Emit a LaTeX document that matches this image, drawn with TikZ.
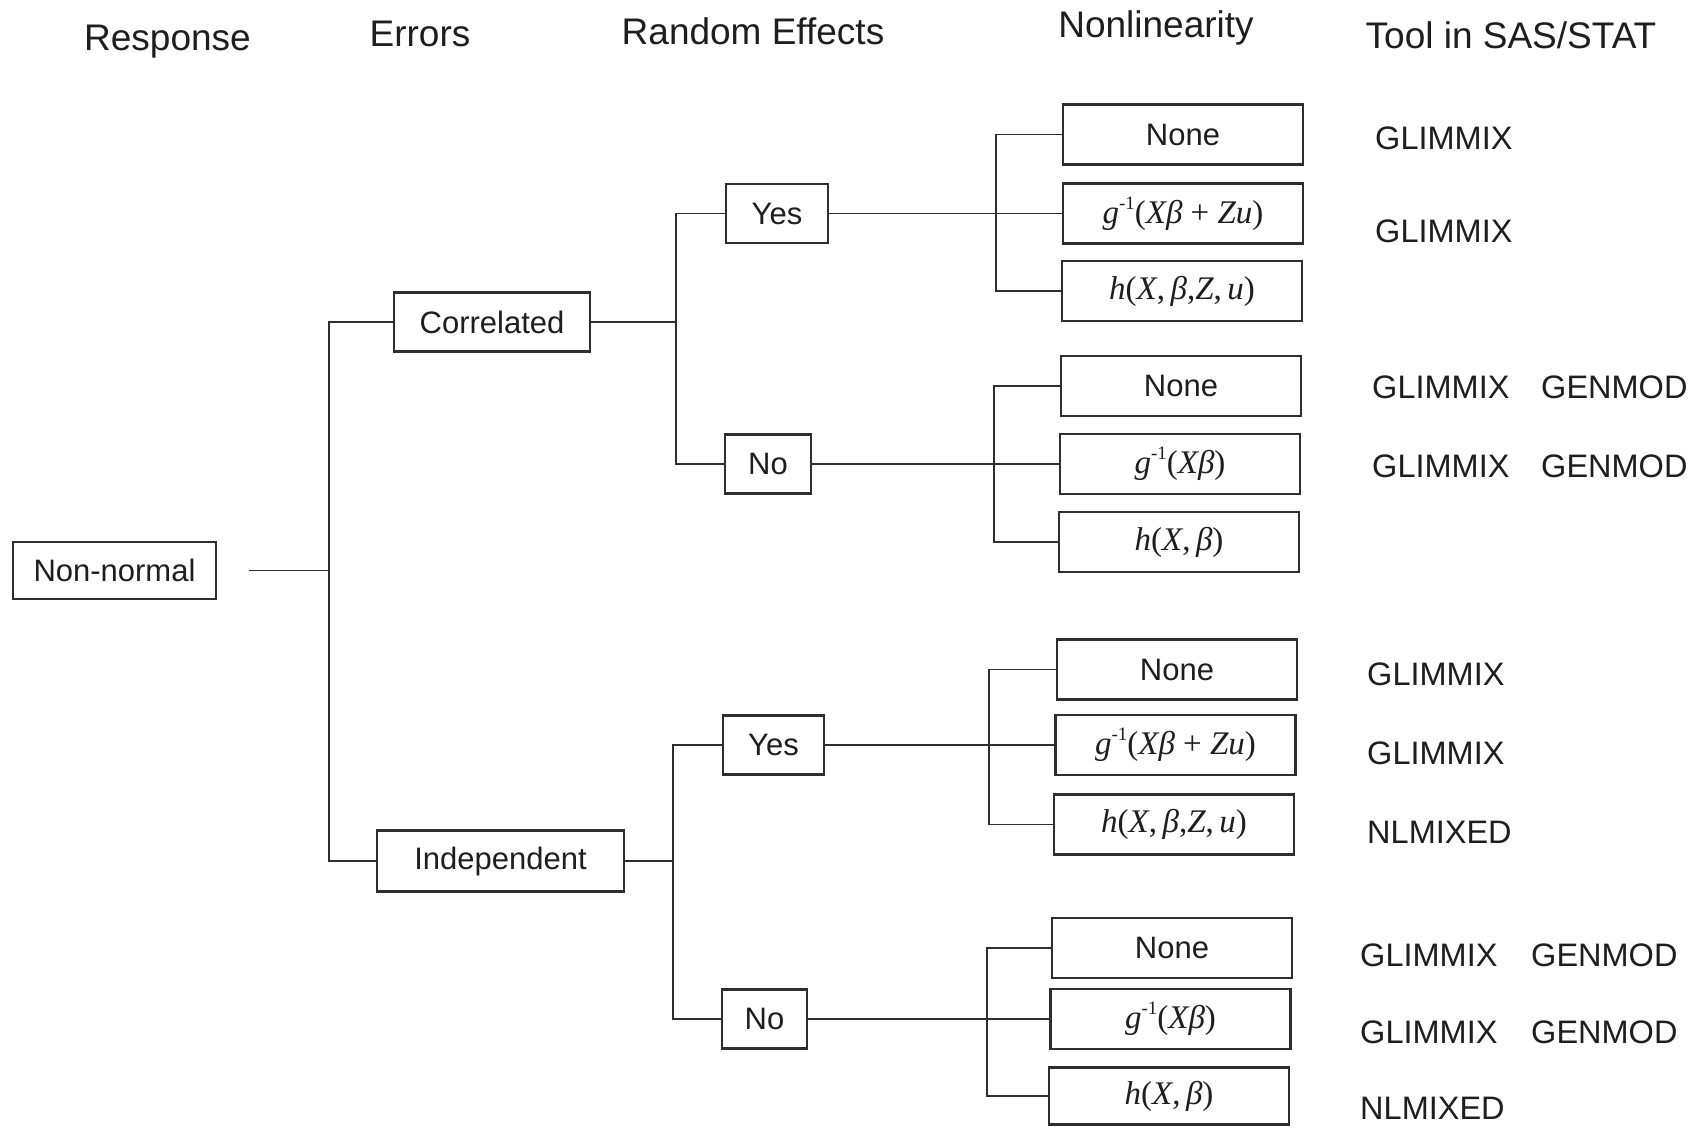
\documentclass[tikz,border=0pt]{standalone}
\usepackage{fontspec}
\setmainfont{Liberation Sans}
\newfontfamily\tms{Liberation Serif}
\definecolor{lc}{HTML}{2E2E2E}
\definecolor{tc}{HTML}{1E1E1E}
\newcommand\ginv{{\itshape g}\raisebox{0.42em}{\fontsize{19}{19}\selectfont -1}}
\begin{document}
\begin{tikzpicture}[x=1pt,y=-1pt,
  box/.style={draw=lc, line width=2.2pt, minimum height=59pt, inner sep=0pt,
    font=\fontsize{31}{37}\selectfont, text=tc},
  nlbox/.style={box, minimum width=240pt, minimum height=60pt},
  mth/.style={font=\tms\fontsize{33}{38}\selectfont},
  hdr/.style={inner sep=0pt, text=tc, font=\fontsize{37}{44}\selectfont},
  tool/.style={anchor=west, inner sep=0pt, text=tc, font=\fontsize{32.5}{40}\selectfont},
  conn/.style={draw=lc, line width=1.7pt}]
\useasboundingbox (0,0) rectangle (1689,1127);
\fill[white] (0,0) rectangle (1689,1127);

% headers
\node[hdr] (hresp) at (167.5,42) {Response};
\node[hdr] (herr) at (420,34) {Errors};
\node[hdr] (hre) at (753,31) {Random Effects};
\node[hdr] (hnl) at (1156,28) {Nonlinearity};
\node[hdr] (htool) at (1511,35) {Tool in SAS/STAT};

% level boxes
\node[box, minimum width=203pt, minimum height=57pt] (nn) at (114.5,570.5) {Non-normal};
\node[box, minimum width=196pt] (corr) at (492,322) {Correlated};
\node[box, minimum width=247pt, minimum height=61pt] (ind) at (500.5,861) {Independent};
\node[box, minimum width=102pt] (cy) at (777,213.5) {Yes};
\node[box, minimum width=86pt] (cn) at (768,464) {No};
\node[box, minimum width=101pt] (iy) at (773.5,745) {Yes};
\node[box, minimum width=85pt] (in) at (764.5,1019) {No};

% nonlinearity boxes
\node[nlbox] (cy1) at (1183,134.5) {None};
\node[nlbox, mth] (cy2) at (1183,213.5) {\ginv(\itshape Xβ\upshape{} + \itshape Zu\upshape)};
\node[nlbox, mth] (cy3) at (1182,291) {\itshape h\upshape(\itshape X\upshape,\,\itshape β\upshape,\itshape Z\upshape,\,\itshape u\upshape)};
\node[nlbox] (cn1) at (1181,386) {None};
\node[nlbox, mth] (cn2) at (1180,464) {\ginv(\itshape Xβ\upshape)};
\node[nlbox, mth] (cn3) at (1179,542) {\itshape h\upshape(\itshape X\upshape,\,\itshape β\upshape)};
\node[nlbox] (iy1) at (1177,669.5) {None};
\node[nlbox, mth] (iy2) at (1175.5,745) {\ginv(\itshape Xβ\upshape{} + \itshape Zu\upshape)};
\node[nlbox, mth] (iy3) at (1174,824.5) {\itshape h\upshape(\itshape X\upshape,\,\itshape β\upshape,\itshape Z\upshape,\,\itshape u\upshape)};
\node[nlbox] (in1) at (1172,948) {None};
\node[nlbox, mth] (in2) at (1170.5,1019) {\ginv(\itshape Xβ\upshape)};
\node[nlbox, mth, minimum height=57pt] (in3) at (1169,1096) {\itshape h\upshape(\itshape X\upshape,\,\itshape β\upshape)};

% tools
\node[tool] (t1) at (1375,138) {GLIMMIX};
\node[tool] (t2) at (1375,231) {GLIMMIX};
\node[tool] (t3a) at (1372,387) {GLIMMIX};
\node[tool] (t3b) at (1541,387) {GENMOD};
\node[tool] (t4a) at (1372,466) {GLIMMIX};
\node[tool] (t4b) at (1541,466) {GENMOD};
\node[tool] (t5) at (1367,674) {GLIMMIX};
\node[tool] (t6) at (1367,753) {GLIMMIX};
\node[tool] (t7) at (1367,832) {NLMIXED};
\node[tool] (t8a) at (1360,955) {GLIMMIX};
\node[tool] (t8b) at (1531,955) {GENMOD};
\node[tool] (t9a) at (1360,1032) {GLIMMIX};
\node[tool] (t9b) at (1531,1032) {GENMOD};
\node[tool] (t10) at (1360,1108) {NLMIXED};

% branch points
\coordinate (b0) at (329,570.5);
\coordinate (b1) at (676,322);
\coordinate (b2) at (673,861);
\coordinate (b3) at (996,213.5);
\coordinate (b4) at (994,464);
\coordinate (b5) at (989,745);
\coordinate (b6) at (987,1019);

% connectors
\draw[conn] ([xshift=32pt]nn.east) -- (b0);
\draw[conn] (corr.west) -| (b0) |- (ind.west);
\draw[conn] (corr.east) -- (b1);
\draw[conn] (cy.west) -| (b1) |- (cn.west);
\draw[conn] (ind.east) -- (b2);
\draw[conn] (iy.west) -| (b2) |- (in.west);

\draw[conn] (cy.east) -- (cy2.west);
\draw[conn] (cy1.west) -| (b3) |- (cy3.west);
\draw[conn] (cn.east) -- (cn2.west);
\draw[conn] (cn1.west) -| (b4) |- (cn3.west);
\draw[conn] (iy.east) -- (iy2.west);
\draw[conn] (iy1.west) -| (b5) |- (iy3.west);
\draw[conn] (in.east) -- (in2.west);
\draw[conn] (in1.west) -| (b6) |- (in3.west);
\end{tikzpicture}
\end{document}
